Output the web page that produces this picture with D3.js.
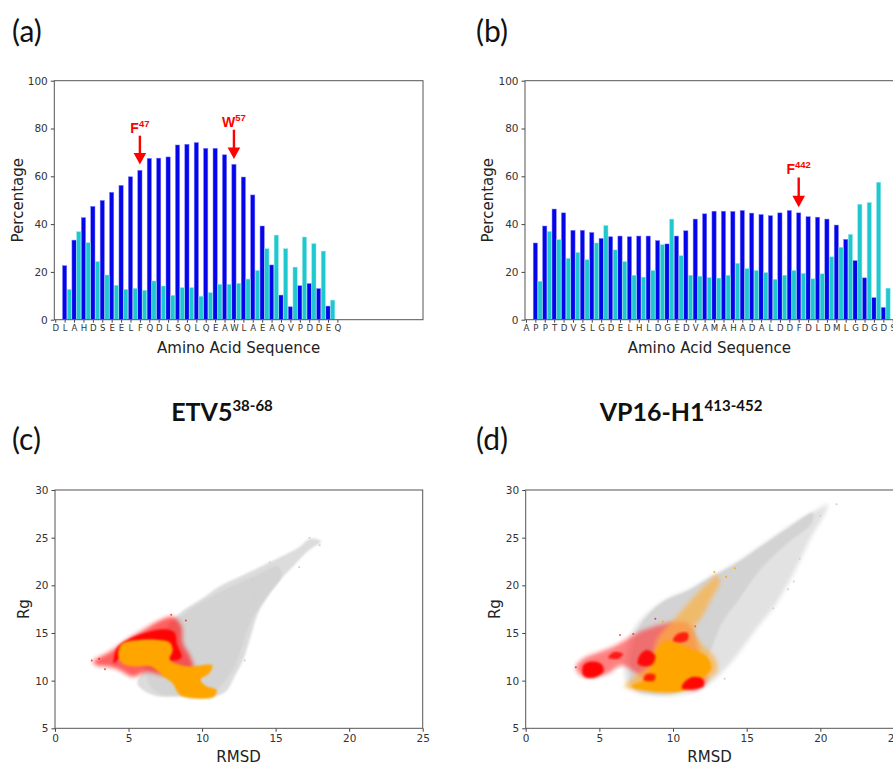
<!DOCTYPE html>
<html>
<head>
<meta charset="utf-8">
<script src="https://cdn.jsdelivr.net/npm/d3@7"></script>
<style>
  body { margin: 0; background: #fff; }
  svg text { font-family: "DejaVu Sans", sans-serif; }
  .tick text { fill: #333; }
  .tick line { stroke: #444; }
</style>
</head>
<body>
<script>
// ---- panel (a): ETV5 38-68 ----
var seqA = "DLAHDSEELFQDLSQLQEAWLAEAQVPDDEQ".split("");
var blueA = [null, 22.6, 33.3, 42.7, 47.4, 49.9, 53.3, 56.2, 59.8, 62.5, 67.5, 67.6, 68.1, 73.1, 73.4,
  74.1, 71.7, 71.7, 69.0, 65.0, 59.7, 52.2, 39.2, 22.9, 10.3, 5.4, 14.2, 15.1, 13.0, 5.7, null];
var cyanA = [null, 12.7, 36.8, 32.2, 24.3, 18.7, 14.4, 12.7, 13.1, 12.3, 16.2, 14.1, 10.2, 13.4, 13.4,
  9.8, 11.3, 14.8, 14.8, 15.2, 17.0, 20.6, 29.7, 35.4, 29.7, 22.0, 34.6, 31.8, 28.7, 8.2, null];
var arrowsA = [
  {pos: 9, tail: 77, tip: 64.9, base: "F", sup: "47"},
  {pos: 19, tail: 79.5, tip: 67.2, base: "W", sup: "57"}
];

// ---- panel (b): VP16-H1 413-452 ----
var seqB = "APPTDVSLGDELHLDGEDVAMAHADALDDFDLDMLGDGDS".split("");
var blueB = [null, 32.1, 39.2, 46.3, 44.7, 37.4, 37.4, 36.5, 34.0, 34.7, 35.0, 34.7, 35.0, 35.0, 33.1,
  31.7, 35.0, 37.2, 42.1, 44.3, 45.4, 45.4, 45.3, 45.7, 44.6, 44.0, 43.5, 44.7, 45.7, 44.7,
  43.1, 42.9, 42.1, 39.6, 33.6, 24.7, 17.5, 9.2, 5.1, null];
var cyanB = [null, 16.1, 36.9, 33.5, 25.7, 28.1, 25.1, 32.1, 39.4, 29.2, 24.3, 18.6, 17.8, 20.6, 31.4,
  42.1, 26.8, 18.6, 18.2, 17.6, 17.4, 18.6, 23.6, 21.4, 20.6, 19.7, 16.9, 18.6, 20.6, 19.4,
  17.1, 19.2, 26.3, 30.3, 35.7, 48.3, 49.0, 57.5, 13.2, null];
var arrowsB = [
  {pos: 29, tail: 59.5, tip: 47.1, base: "F", sup: "442"}
];

var pctTicks = [0, 20, 40, 60, 80, 100];
var rmsdTicks = [0, 5, 10, 15, 20, 25];
var rgTicks = [5, 10, 15, 20, 25, 30];

// ---- panel (c): scatter clouds, outlines read in (RMSD, Rg) ----
var grayOuterC = [[5.6,9.7],[6.0,11.1],[6.8,13.5],[7.6,15.7],[8.5,17.1],[9.9,18.5],[11.2,19.9],[12.4,20.8],
  [13.9,21.9],[15.5,23.1],[16.6,24.0],[17.4,24.9],[18.1,24.6],[17.2,23.6],[16.2,22.0],[15.1,20.2],
  [13.9,17.4],[13.3,14.6],[12.8,12.2],[12.2,10.4],[11.7,9.0],[11.0,8.4],[9.9,8.3],[8.3,8.3],[6.9,8.4],[6.0,9.0]];
var grayDenseC = [[6.2,10.5],[7.0,13.8],[7.9,15.9],[9.2,17.5],[10.6,18.8],[12.0,19.9],[13.6,21.0],
  [15.2,22.0],[15.4,21.0],[14.5,19.0],[13.4,16.5],[12.8,14.0],[12.3,11.8],[11.6,10.0],[10.8,8.9],[9.0,8.6],[7.0,8.7]];
var redC = [[2.6,12.0],[3.7,13.0],[4.9,14.3],[6.0,15.3],[7.1,16.3],[8.0,16.7],[8.6,15.7],[8.7,13.9],
  [9.2,12.5],[9.4,11.1],[8.5,10.8],[7.4,10.6],[6.2,10.9],[5.3,10.4],[4.4,11.1],[3.5,11.5],[2.8,11.6]];
var redDenseC = [[4.2,13.4],[5.2,14.5],[6.3,15.1],[7.3,15.4],[8.1,15.1],[8.3,13.8],[8.6,12.4],[7.6,12.2],
  [7.0,14.0],[5.5,13.9],[4.5,12.6],[4.0,11.8]];
var orangeC = [[4.3,12.7],[4.5,13.8],[5.3,14.2],[6.9,14.3],[7.8,14.0],[8.0,13.2],[7.8,12.2],[9.0,11.5],
  [9.9,11.6],[10.7,11.6],[10.5,10.8],[9.9,10.1],[10.3,9.4],[11.0,9.0],[10.8,8.3],[9.9,8.1],[8.5,8.5],
  [8.0,9.7],[7.4,10.4],[6.5,11.5],[5.3,11.5],[4.6,11.8]];
var grayDotsC = [[17.3,25.0],[18.0,24.2],[14.6,22.4],[13.4,20.6],[16.6,21.9],[12.9,12.1],[13.6,19.0]];
var redDotsC = [[2.5,12.1],[3.0,12.3],[8.9,16.3],[9.4,10.9],[3.4,11.2],[7.9,16.9]];

// ---- panel (d) ----
var grayOuterD = [[7.1,14.6],[7.6,16.0],[8.5,17.4],[9.6,18.6],[11.0,19.5],[12.3,20.7],[14.2,22.3],
  [16.0,24.2],[17.8,26.1],[19.6,27.8],[20.5,28.5],[20.3,27.5],[19.4,25.1],[18.3,21.6],[17.3,18.8],
  [16.7,17.4],[15.8,15.7],[14.6,13.2],[13.7,11.5],[12.8,10.1],[11.4,8.8],[9.2,8.4],[7.5,8.8],[6.8,10.0],[6.8,12.5]];
var grayDenseD = [[7.6,15.2],[8.5,17.2],[9.6,18.5],[11.0,19.4],[12.3,20.6],[14.2,22.2],[16.0,24.1],
  [17.8,26.0],[19.5,27.6],[19.4,26.5],[17.6,24.2],[15.9,21.6],[14.5,18.6],[13.3,16.0],[12.5,13.0],
  [11.7,10.8],[10.6,9.0],[8.5,8.6],[7.2,9.5]];
var redD = [[3.4,11.4],[3.9,12.3],[5.0,13.0],[6.0,13.6],[7.0,14.5],[8.0,15.3],[9.5,16.0],[11.0,16.0],
  [11.5,14.5],[12.0,11.5],[12.3,10.0],[11.5,9.0],[10.5,9.3],[9.5,9.8],[8.3,9.8],[7.5,10.8],[6.5,11.6],
  [5.5,10.7],[4.3,10.3],[3.7,10.6]];
var orangeD = [[6.7,9.4],[7.4,10.4],[8.4,11.8],[8.9,14.3],[9.6,15.7],[10.4,17.0],[11.3,18.6],[12.2,20.0],
  [13.0,21.0],[13.2,20.4],[12.6,18.6],[12.0,16.8],[11.4,15.3],[11.9,13.9],[12.8,12.5],[13.0,11.1],
  [12.3,10.1],[10.5,9.0],[9.6,8.7],[8.5,9.0],[7.5,9.0]];
var orangeDenseD = [[7.2,9.4],[8.0,10.1],[8.5,11.5],[8.8,13.0],[9.6,14.2],[10.5,13.8],[11.5,13.2],
  [12.3,12.5],[12.6,11.3],[12.0,10.3],[10.8,9.0],[9.5,8.8],[8.0,9.0]];
var redBlobsD = [
  [[3.9,10.6],[3.9,11.6],[4.4,12.0],[5.1,11.8],[5.3,11.0],[4.8,10.4],[4.2,10.3]],
  [[7.6,11.8],[7.8,12.8],[8.3,13.2],[8.8,12.6],[8.6,11.7],[8.0,11.5]],
  [[10.6,9.2],[10.8,9.9],[11.4,10.4],[12.0,10.2],[12.1,9.5],[11.4,9.1]],
  [[10.0,14.2],[10.3,14.9],[11.0,15.0],[11.0,14.3],[10.5,14.0]],
  [[5.6,12.4],[6.0,13.0],[6.6,12.8],[6.3,12.3]],
  [[8.0,10.1],[8.2,10.7],[8.8,10.6],[8.7,10.0]]
];
var grayDotsD = [[21.1,28.5],[20.0,27.3],[18.6,22.8],[17.8,19.6],[13.5,10.2],[16.8,17.6],[18.2,20.4]];
var redDotsD = [[3.4,11.4],[6.4,14.8],[8.8,16.5],[11.5,15.7],[7.3,14.9]];
var orangeDotsD = [[12.8,21.4],[13.6,20.9],[9.3,16.2],[14.2,21.8]];

var blue = "#0505ea", cyan = "#1fc8cf", red = "#ff0000", orange = "#ffa500", lightGray = "#d3d3d3";

var svg = d3.select("body").append("svg").attr("width", 893).attr("height", 762);

var defs = svg.append("defs");
defs.append("filter").attr("id", "soft").attr("x", "-10%").attr("y", "-10%").attr("width", "120%").attr("height", "120%")
  .append("feGaussianBlur").attr("stdDeviation", 1.1);
defs.append("filter").attr("id", "softer").attr("x", "-15%").attr("y", "-15%").attr("width", "130%").attr("height", "130%")
  .append("feGaussianBlur").attr("stdDeviation", 2.2);

function bigLabel(x, y, t){
  svg.append("text").attr("x", x).attr("y", y).style("font-family", "Lato, 'Open Sans', sans-serif")
    .style("font-size", "30px").attr("fill", "#111").text(t);
}

function barPanel(left, right, top, bottom, seq, bVals, cVals, arrows){
  var x = d3.scaleLinear().domain([-0.1, 39.1]).range([left, right]);
  var y = d3.scaleLinear().domain([0, 100]).range([bottom, top]);
  var g = svg.append("g");
  var bw = x(0.45) - x(0);

  g.append("g").selectAll("rect").data(d3.range(seq.length).filter(function(i){ return bVals[i] != null; }))
    .enter().append("rect")
    .attr("x", function(i){ return x(i - 0.225); })
    .attr("y", function(i){ return y(bVals[i]); })
    .attr("width", bw)
    .attr("height", function(i){ return y(0) - y(bVals[i]); })
    .attr("fill", blue).attr("stroke", "#7a7aff").attr("stroke-width", 0.5);

  g.append("g").selectAll("rect").data(d3.range(seq.length).filter(function(i){ return cVals[i] != null; }))
    .enter().append("rect")
    .attr("x", function(i){ return x(i + 0.275); })
    .attr("y", function(i){ return y(cVals[i]); })
    .attr("width", bw)
    .attr("height", function(i){ return y(0) - y(cVals[i]); })
    .attr("fill", cyan).attr("stroke", "#8fe6ea").attr("stroke-width", 0.5);

  var ya = g.append("g").attr("transform", "translate(" + left + ",0)")
    .call(d3.axisLeft(y).tickValues(pctTicks).tickSize(3.5).tickPadding(3));
  ya.select(".domain").remove();
  ya.selectAll("text").style("font-size", "10.5px").style("font-family", "DejaVu Sans");

  var xa = g.append("g").attr("transform", "translate(0," + bottom + ")")
    .call(d3.axisBottom(x).tickValues(d3.range(seq.length)).tickFormat(function(i){ return seq[i]; })
      .tickSize(3).tickPadding(2.5));
  xa.select(".domain").remove();
  xa.selectAll("text").style("font-size", "8.6px").style("font-family", "DejaVu Sans").attr("fill", "#444");

  g.append("rect").attr("x", left).attr("y", top).attr("width", right - left).attr("height", bottom - top)
    .attr("fill", "none").attr("stroke", "#555").attr("stroke-width", 1);

  g.append("text").attr("transform", "translate(" + (left - 37) + "," + ((top + bottom) / 2) + ") rotate(-90)")
    .attr("text-anchor", "middle").attr("dy", "0.35em").style("font-size", "15px").attr("fill", "#222")
    .text("Percentage");
  g.append("text").attr("x", x(19.5)).attr("y", bottom + 33).attr("text-anchor", "middle")
    .style("font-size", "15px").attr("fill", "#222").text("Amino Acid Sequence");

  arrows.forEach(function(a){
    var cx = x(a.pos), ty = y(a.tip), tl = y(a.tail);
    g.append("line").attr("x1", cx).attr("x2", cx).attr("y1", tl).attr("y2", ty - 10)
      .attr("stroke", red).attr("stroke-width", 2.4);
    g.append("path").attr("d", "M" + (cx - 6.3) + "," + (ty - 11.5) + "L" + (cx + 6.3) + "," + (ty - 11.5) + "L" + cx + "," + ty + "Z")
      .attr("fill", red);
    var t = g.append("text").attr("x", cx).attr("y", tl - 3).attr("text-anchor", "middle")
      .attr("fill", red).style("font-weight", "bold").style("font-family", "'Liberation Sans', Arial, sans-serif");
    t.append("tspan").style("font-size", "14px").text(a.base);
    t.append("tspan").attr("dy", -6).style("font-size", "9.5px").text(a.sup);
  });
}

function scatterPanel(left, right, top, bottom, layers, xLabelX){
  var x = d3.scaleLinear().domain([0, 25]).range([left, right]);
  var y = d3.scaleLinear().domain([5, 30]).range([bottom, top]);
  var g = svg.append("g");
  var clipId = "clip" + Math.round(left);
  defs.append("clipPath").attr("id", clipId).append("rect")
    .attr("x", left).attr("y", top).attr("width", right - left).attr("height", bottom - top);
  var area = g.append("g").attr("clip-path", "url(#" + clipId + ")");
  var shape = d3.line().x(function(d){ return x(d[0]); }).y(function(d){ return y(d[1]); })
    .curve(d3.curveCatmullRomClosed.alpha(0.5));

  layers.forEach(function(l){
    if (l.poly) {
      area.append("path").attr("d", shape(l.poly)).attr("fill", l.color)
        .attr("opacity", l.opacity).attr("filter", "url(#" + (l.blur || "soft") + ")");
    }
    if (l.dots) {
      area.append("g").selectAll("circle").data(l.dots).enter().append("circle")
        .attr("cx", function(d){ return x(d[0]); }).attr("cy", function(d){ return y(d[1]); })
        .attr("r", 1).attr("fill", l.color).attr("opacity", l.opacity);
    }
  });

  var ya = g.append("g").attr("transform", "translate(" + left + ",0)")
    .call(d3.axisLeft(y).tickValues(rgTicks).tickSize(3.5).tickPadding(3));
  ya.select(".domain").remove();
  ya.selectAll("text").style("font-size", "10.5px").style("font-family", "DejaVu Sans");
  var xa = g.append("g").attr("transform", "translate(0," + bottom + ")")
    .call(d3.axisBottom(x).tickValues(rmsdTicks).tickSize(3.5).tickPadding(3));
  xa.select(".domain").remove();
  xa.selectAll("text").style("font-size", "10.5px").style("font-family", "DejaVu Sans");

  g.append("rect").attr("x", left).attr("y", top).attr("width", right - left).attr("height", bottom - top)
    .attr("fill", "none").attr("stroke", "#555").attr("stroke-width", 1);

  g.append("text").attr("transform", "translate(" + (left - 31) + "," + ((top + bottom) / 2) + ") rotate(-90)")
    .attr("text-anchor", "middle").attr("dy", "0.35em").style("font-size", "15px").attr("fill", "#222").text("Rg");
  g.append("text").attr("x", xLabelX).attr("y", bottom + 34).attr("text-anchor", "middle")
    .style("font-size", "15px").attr("fill", "#222").text("RMSD");
}

// panel letters
bigLabel(12, 42, "(a)");
bigLabel(476, 42, "(b)");
bigLabel(12, 450, "(c)");
bigLabel(476, 450, "(d)");

barPanel(54.3, 423, 80.7, 319.7, seqA, blueA, cyanA, arrowsA);
barPanel(525, 893.7, 80.7, 319.7, seqB, blueB, cyanB, arrowsB);

// peptide titles
function title(cx, main, sup){
  var t = svg.append("text").attr("x", cx).attr("y", 421).attr("text-anchor", "middle")
    .style("font-family", "Lato, 'Open Sans', sans-serif").style("font-weight", "bold").attr("fill", "#111");
  t.append("tspan").style("font-size", "25px").text(main);
  t.append("tspan").attr("dy", -10).style("font-size", "15px").text(sup);
}
title(222, "ETV5", "38-68");
title(681, "VP16-H1", "413-452");

scatterPanel(55, 422.7, 490, 728.3, [
  {poly: grayOuterC, color: "#dcdcdc", opacity: 1},
  {poly: grayDenseC, color: lightGray, opacity: 1},
  {dots: grayDotsC, color: "#cfcfcf", opacity: 1},
  {poly: redC, color: "#f22", opacity: 0.72, blur: "softer"},
  {poly: redDenseC, color: red, opacity: 0.95},
  {dots: redDotsC, color: red, opacity: 0.7},
  {poly: orangeC, color: orange, opacity: 1}
], 238.5);

scatterPanel(525.7, 894, 490, 728.3, [
  {poly: grayOuterD, color: "#e2e2e2", opacity: 1, blur: "softer"},
  {poly: grayDenseD, color: lightGray, opacity: 1},
  {dots: grayDotsD, color: "#cfcfcf", opacity: 1},
  {poly: redD, color: "#f33", opacity: 0.62, blur: "softer"},
  {dots: redDotsD, color: red, opacity: 0.7},
  {poly: orangeD, color: "#fdb040", opacity: 0.7, blur: "softer"},
  {poly: orangeDenseD, color: orange, opacity: 1},
  {dots: orangeDotsD, color: orange, opacity: 0.9},
  {poly: redBlobsD[0], color: red, opacity: 0.95},
  {poly: redBlobsD[1], color: red, opacity: 0.9},
  {poly: redBlobsD[2], color: red, opacity: 0.95},
  {poly: redBlobsD[3], color: red, opacity: 0.8},
  {poly: redBlobsD[4], color: red, opacity: 0.8},
  {poly: redBlobsD[5], color: red, opacity: 0.8}
], 709.5);
</script>
</body>
</html>
